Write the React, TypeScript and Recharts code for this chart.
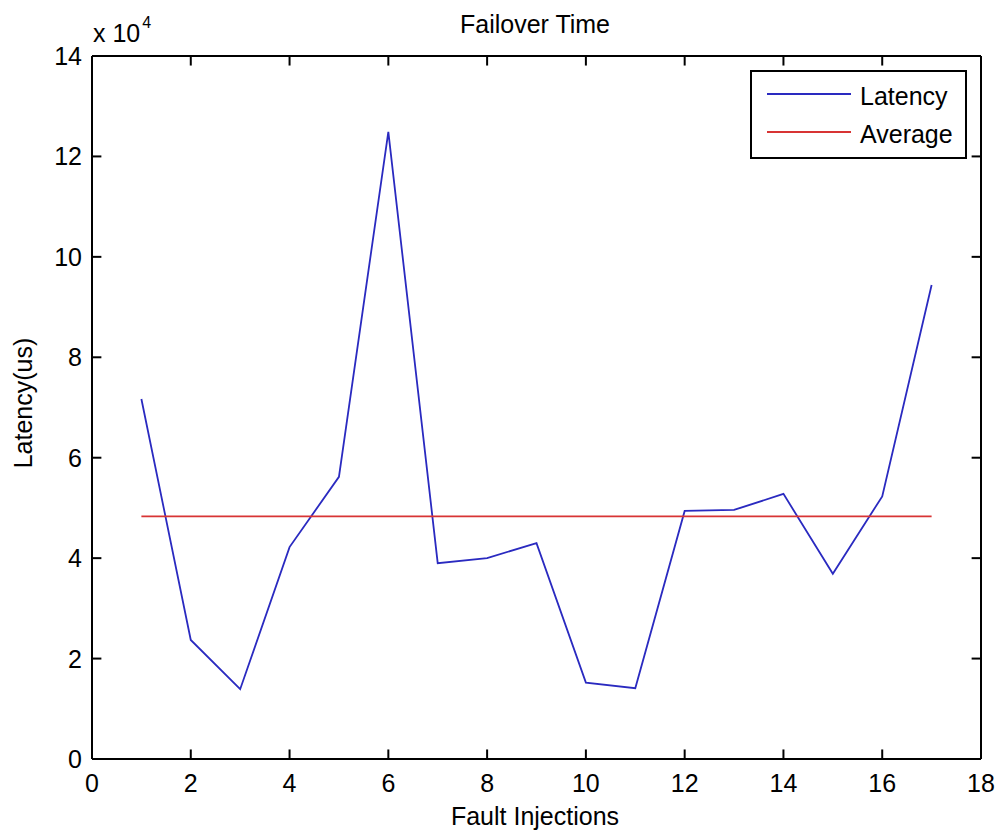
import React from 'react';
import { LineChart, Line, XAxis, YAxis, ReferenceLine } from 'recharts';

// Fault injection index (x) and measured failover latency in microseconds
const faultInjections = [1, 2, 3, 4, 5, 6, 7, 8, 9, 10, 11, 12, 13, 14, 15, 16, 17];
const latencyValues = [
  71700, 23700, 13900, 42200, 56200, 124900, 39000, 40000, 43000,
  15200, 14100, 49400, 49600, 52800, 36900, 52300, 94400,
];
const averageLatency = 48300;

const xTicks = [0, 2, 4, 6, 8, 10, 12, 14, 16, 18];
const yTicks = [0, 20000, 40000, 60000, 80000, 100000, 120000, 140000];

const titleText = 'Failover Time';
const xLabelText = 'Fault Injections';
const yLabelText = 'Latency(us)';
const legendLatency = 'Latency';
const legendAverage = 'Average';

const X_MIN = 0;
const X_MAX = 18;
const Y_MIN = 0;
const Y_MAX = 140000;

const BLUE = '#2a2ac0';
const RED = '#d83434';
const FONT = '"Liberation Sans", Arial, Helvetica, sans-serif';
const FS = 25;
// inward tick length, expressed in each axis' data units (~9-10 px)
const TICK_DX = 0.19;
const TICK_DY = 1900;

const data = faultInjections.map((x, i) => ({
  x,
  latency: latencyValues[i],
  average: averageLatency,
}));

const axisStroke = { stroke: '#000', strokeWidth: 2 };

const BottomTick = (props: any) => {
  const { x, y, payload } = props;
  return (
    <text x={x} y={y + 33} textAnchor="middle" fontSize={FS} fontFamily={FONT} fill="#000">
      {payload.value}
    </text>
  );
};

const LeftTick = (props: any) => {
  const { x, y, payload } = props;
  return (
    <text x={x - 10} y={y + 9} textAnchor="end" fontSize={FS} fontFamily={FONT} fill="#000">
      {payload.value / 10000}
    </text>
  );
};

const textStyle: React.CSSProperties = {
  position: 'absolute',
  fontFamily: FONT,
  fontSize: FS,
  color: '#000',
  lineHeight: 1,
  whiteSpace: 'nowrap',
};

const tickProps = {
  xAxisId: 'bottom',
  yAxisId: 'left',
  stroke: '#000',
  strokeWidth: 2,
  ifOverflow: 'visible' as const,
};

export default function App() {
  return (
    <div style={{ position: 'absolute', left: 0, top: 0, width: 1005, height: 840, background: '#fff' }}>
      <LineChart
        width={1005}
        height={840}
        data={data}
        margin={{ top: 55, right: 23, bottom: 41, left: 32 }}
      >
        <XAxis
          xAxisId="bottom"
          type="number"
          dataKey="x"
          domain={[X_MIN, X_MAX]}
          ticks={xTicks}
          interval={0}
          orientation="bottom"
          height={40}
          tickSize={0}
          tickMargin={0}
          tickLine={false}
          tick={<BottomTick />}
          axisLine={axisStroke}
        />
        <XAxis
          xAxisId="top"
          type="number"
          dataKey="x"
          domain={[X_MIN, X_MAX]}
          orientation="top"
          height={1}
          tick={false}
          tickLine={false}
          axisLine={axisStroke}
        />
        <YAxis
          yAxisId="left"
          type="number"
          domain={[Y_MIN, Y_MAX]}
          ticks={yTicks}
          interval={0}
          orientation="left"
          width={60}
          tickSize={0}
          tickMargin={0}
          tickLine={false}
          tick={<LeftTick />}
          axisLine={axisStroke}
        />
        <YAxis
          yAxisId="right"
          type="number"
          domain={[Y_MIN, Y_MAX]}
          orientation="right"
          width={1}
          tick={false}
          tickLine={false}
          axisLine={axisStroke}
        />

        {xTicks.map((t) => (
          <ReferenceLine
            key={`xb-${t}`}
            {...tickProps}
            segment={[{ x: t, y: Y_MIN }, { x: t, y: Y_MIN + TICK_DY }]}
          />
        ))}
        {xTicks.map((t) => (
          <ReferenceLine
            key={`xt-${t}`}
            {...tickProps}
            segment={[{ x: t, y: Y_MAX }, { x: t, y: Y_MAX - TICK_DY }]}
          />
        ))}
        {yTicks.map((t) => (
          <ReferenceLine
            key={`yl-${t}`}
            {...tickProps}
            segment={[{ x: X_MIN, y: t }, { x: X_MIN + TICK_DX, y: t }]}
          />
        ))}
        {yTicks.map((t) => (
          <ReferenceLine
            key={`yr-${t}`}
            {...tickProps}
            segment={[{ x: X_MAX, y: t }, { x: X_MAX - TICK_DX, y: t }]}
          />
        ))}

        <Line
          xAxisId="bottom"
          yAxisId="left"
          type="linear"
          dataKey="latency"
          stroke={BLUE}
          strokeWidth={1.8}
          dot={false}
          isAnimationActive={false}
        />
        <Line
          xAxisId="bottom"
          yAxisId="left"
          type="linear"
          dataKey="average"
          stroke={RED}
          strokeWidth={1.8}
          dot={false}
          isAnimationActive={false}
        />
      </LineChart>

      {/* Title */}
      <div style={{ ...textStyle, left: 0, width: 1070, top: 12, textAlign: 'center' }}>{titleText}</div>

      {/* Exponent multiplier */}
      <div style={{ ...textStyle, left: 93, top: 21 }}>
        x 10
        <span style={{ fontSize: 16, position: 'relative', top: -14, marginLeft: 2 }}>4</span>
      </div>

      {/* X axis label */}
      <div style={{ ...textStyle, left: 0, width: 1070, top: 804, textAlign: 'center' }}>{xLabelText}</div>

      {/* Y axis label */}
      <div
        style={{
          ...textStyle,
          left: 23,
          top: 403,
          transform: 'translate(-50%, -50%) rotate(-90deg)',
        }}
      >
        {yLabelText}
      </div>

      {/* Legend */}
      <div
        style={{
          position: 'absolute',
          left: 750,
          top: 70,
          width: 213,
          height: 85,
          border: '2px solid #000',
          background: '#fff',
        }}
      >
        <div style={{ position: 'absolute', left: 15, top: 21, width: 84, height: 0, borderTop: `2px solid ${BLUE}` }} />
        <div style={{ ...textStyle, left: 108, top: 12 }}>{legendLatency}</div>
        <div style={{ position: 'absolute', left: 15, top: 59, width: 84, height: 0, borderTop: `2px solid ${RED}` }} />
        <div style={{ ...textStyle, left: 108, top: 50 }}>{legendAverage}</div>
      </div>
    </div>
  );
}
